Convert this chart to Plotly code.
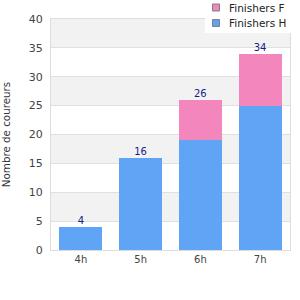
import plotly.graph_objects as go

categories = ["4h", "5h", "6h", "7h"]
finishers_h = [4, 16, 19, 25]
finishers_f = [0, 0, 7, 9]
y_ticks = [0, 5, 10, 15, 20, 25, 30, 35, 40]
legend_names = ["Finishers F", "Finishers H"]

totals = [h + f for h, f in zip(finishers_h, finishers_f)]
COL_H = "#60A5F5"
COL_F = "#F386BD"

W, H = 300, 300
ML, MR, MT, MB = 51, 10, 19, 50
PW, PH = W - ML - MR, H - MT - MB


def px_x(p):
    return (p - ML) / PW


def px_y(p):
    return (H - MB - p) / PH


fig = go.Figure()
fig.add_trace(go.Bar(x=categories, y=finishers_h, name="Finishers H", showlegend=False,
                     marker=dict(color=COL_H, line=dict(width=0))))
fig.add_trace(go.Bar(x=categories, y=finishers_f, name="Finishers F", showlegend=False,
                     marker=dict(color=COL_F, line=dict(width=0))))
fig.add_trace(go.Scatter(x=categories, y=totals, mode="text",
                         text=[str(t) for t in totals], textposition="top center",
                         textfont=dict(color="#1a1a8c", size=10, family="DejaVu Sans"),
                         showlegend=False, hoverinfo="skip", cliponaxis=False))

# alternating background bands
for i in range(1, len(y_ticks) - 1, 2):
    fig.add_shape(type="rect", xref="paper", yref="y", x0=0, x1=1,
                  y0=y_ticks[i], y1=y_ticks[i + 1], fillcolor="#f2f2f2",
                  line=dict(width=0), layer="below")

# legend box (drawn manually for compact layout)
fig.add_shape(type="rect", xref="paper", yref="paper",
              x0=px_x(205), x1=px_x(291), y0=px_y(33), y1=px_y(0),
              fillcolor="white", line=dict(width=0), layer="above")
for k, (name, col) in enumerate(zip(legend_names, [COL_F, COL_H])):
    cy = 7.5 + 15.5 * k
    fig.add_shape(type="rect", xref="paper", yref="paper",
                  x0=px_x(212.5), x1=px_x(219.5), y0=px_y(cy + 3.5), y1=px_y(cy - 3.5),
                  fillcolor=col, line=dict(color="#808080", width=1), layer="above")
    fig.add_annotation(xref="paper", yref="paper", x=px_x(227), y=px_y(cy),
                       xanchor="left", yanchor="middle", text=name, showarrow=False,
                       font=dict(size=10.5, color="#222", family="DejaVu Sans"))

fig.update_layout(
    width=W, height=H,
    margin=dict(l=ML, r=MR, t=MT, b=MB, autoexpand=False),
    barmode="stack", bargap=0.28, showlegend=False,
    paper_bgcolor="white", plot_bgcolor="white",
    font=dict(family="DejaVu Sans", size=11, color="#444"),
    xaxis=dict(showgrid=False, showline=True, linecolor="#dddddd", mirror=True,
               ticks="", tickfont=dict(size=10, color="#444")),
    yaxis=dict(range=[0, 40], tickvals=y_ticks, showgrid=True, gridcolor="#e0e0e0",
               showline=True, linecolor="#dddddd", mirror=True, zeroline=False,
               ticks="", tickfont=dict(size=11, color="#444"), ticklabelstandoff=5,
               title=dict(text="Nombre de coureurs", font=dict(size=10.3, color="#333"), standoff=16)),
)

fig.write_html("out.html")
